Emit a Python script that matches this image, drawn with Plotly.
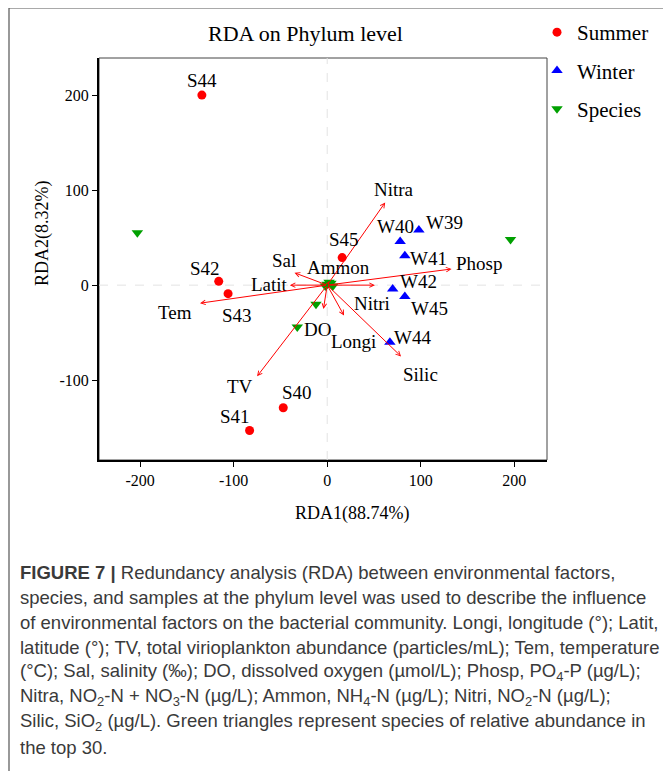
import plotly.graph_objects as go

# ── data ────────────────────────────────────────────────────────────────────
summer_names = ["S44", "S45", "S42", "S43", "S40", "S41"]
summer_x = [-134, 16, -116, -106, -47, -83]
summer_y = [200, 29, 4, -9, -129, -153]

winter_names = ["W39", "W40", "W41", "W42", "W45", "W44"]
winter_x = [98, 78, 83, 70, 83, 67]
winter_y = [58, 46, 31, -4, -12, -60]

species_x = [-203, 196, -12, -32, 0, 4, -2, 6, 2]
species_y = [55, 48, -20, -44, 1, 2, -1, -1, 3]

env_names = ["Nitra", "Phosp", "Sal", "Latit", "Tem", "Ammon", "Nitri", "DO", "Longi", "Silic", "TV"]
env_x = [62, 133, -35, -40, -136, 2, 51, -4, 18, 79, -75]
env_y = [87, 17, 13, 0, -19, 4, 0, -25, -32, -75, -96]

x_ticks = [-200, -100, 0, 100, 200]
x_ticktext = ["-200", "-100", "0", "100", "200"]
y_ticks = [-100, 0, 100, 200]
y_ticktext = ["-100", "0", "100", "200"]

caption_lines = [
    "<b>FIGURE 7 |</b> Redundancy analysis (RDA) between environmental factors,",
    "species, and samples at the phylum level was used to describe the influence",
    "of environmental factors on the bacterial community. Longi, longitude (°); Latit,",
    "latitude (°); TV, total virioplankton abundance (particles/mL); Tem, temperature",
    "(°C); Sal, salinity (‰); DO, dissolved oxygen (µmol/L); Phosp, PO<sub>4</sub>-P (µg/L);",
    "Nitra, NO<sub>2</sub>-N + NO<sub>3</sub>-N (µg/L); Ammon, NH<sub>4</sub>-N (µg/L); Nitri, NO<sub>2</sub>-N (µg/L);",
    "Silic, SiO<sub>2</sub> (µg/L). Green triangles represent species of relative abundance in",
    "the top 30.",
]

# label offsets in pixels (dx, dy up)
POINT_LABEL_SHIFT = {
    "S44": (0, 15), "S45": (2, 18), "S42": (-14, 13), "S43": (9, -22),
    "S40": (14, 15), "S41": (-15, 14),
    "W39": (26, 8), "W40": (-5, 15), "W41": (24, -3), "W42": (26, 7),
    "W45": (25, -12), "W44": (23, 5),
}
ENV_LABEL_SHIFT = {
    "Nitra": (9, 13), "Phosp": (27, 5), "Sal": (-10, 12), "Latit": (-20, 1),
    "Tem": (-25, -9), "Ammon": (9, 14), "Nitri": (-3, -18), "DO": (-6, -21),
    "Longi": (9, -26), "Silic": (19, -18), "TV": (-17, -10),
}

OFF = 8                          # page body margin
W, H = 671 - OFF, 771 - OFF
L, R, T, B = 99, 547, 58, 460    # plot area, page pixels
SERIF = "Liberation Serif"


def px2paper(px, py):
    return (px - L) / (R - L), (B - py) / (B - T)


fig = go.Figure()

fig.add_trace(go.Scatter(
    x=summer_x, y=summer_y, mode="markers", name="Summer", legendgroup="s",
    marker=dict(symbol="circle", size=9, color="#ff0000"),
))
fig.add_trace(go.Scatter(
    x=winter_x, y=winter_y, mode="markers", name="Winter", legendgroup="w",
    marker=dict(symbol="triangle-up", size=10, color="#0000ff"),
))
fig.add_trace(go.Scatter(
    x=species_x, y=species_y, mode="markers", name="Species", legendgroup="p",
    marker=dict(symbol="triangle-down", size=10, color="#00a000"),
))

annotations = []

# environmental arrows
for name, ex, ey in zip(env_names, env_x, env_y):
    annotations.append(dict(
        x=ex, y=ey, ax=0, ay=0, xref="x", yref="y", axref="x", ayref="y",
        showarrow=True, arrowhead=5, arrowsize=0.9, arrowwidth=1,
        arrowcolor="#ff0000", text="",
    ))
    dx, dy = ENV_LABEL_SHIFT[name]
    annotations.append(dict(
        x=ex, y=ey, xref="x", yref="y", text=name, showarrow=False,
        xshift=dx, yshift=dy, font=dict(family=SERIF, size=19, color="black"),
    ))

# sample labels
for names, xs, ys in [(summer_names, summer_x, summer_y), (winter_names, winter_x, winter_y)]:
    for name, sx, sy in zip(names, xs, ys):
        dx, dy = POINT_LABEL_SHIFT[name]
        annotations.append(dict(
            x=sx, y=sy, xref="x", yref="y", text=name, showarrow=False,
            xshift=dx, yshift=dy, font=dict(family=SERIF, size=19, color="black"),
        ))


def paper_text(px, py, text, size, family=SERIF, **kw):
    x, y = px2paper(px, py)
    d = dict(x=x, y=y, xref="paper", yref="paper", text=text, showarrow=False,
             xanchor="center", yanchor="middle",
             font=dict(family=family, size=size, color=kw.pop("color", "black")))
    d.update(kw)
    annotations.append(d)


paper_text(305, 33, "RDA on Phylum level", 22)
paper_text(352, 513, "RDA1(88.74%)", 18)
paper_text(43, 233, "RDA2(8.32%)", 18, textangle=-90)

# caption
for i, line in enumerate(caption_lines):
    paper_text(18, 572 + 25 * i, line, 18.5, family="Liberation Sans",
               color="#3a3a3a", xanchor="left", align="left")

fx0, fy0 = px2paper(9, 800)
fx1, fy1 = px2paper(664, 8)
shapes = [
    # outer figure frame
    dict(type="rect", xref="paper", yref="paper", x0=fx0, y0=fy0, x1=fx1, y1=fy1,
         line=dict(color="#555555", width=1.2), layer="below"),
    # thin top/right box of plot panel
    dict(type="rect", xref="paper", yref="paper", x0=0, y0=0, x1=1, y1=1,
         line=dict(color="#444444", width=1), layer="below"),
    # dashed zero lines
    dict(type="line", xref="x", yref="paper", x0=0, x1=0, y0=0, y1=1,
         line=dict(color="#e3e3e3", width=1, dash="dash"), layer="below"),
    dict(type="line", xref="paper", yref="y", x0=0, x1=1, y0=0, y1=0,
         line=dict(color="#e3e3e3", width=1, dash="dash"), layer="below"),
]

lx, ly = px2paper(537, 12)

fig.update_layout(
    width=W, height=H,
    margin=dict(l=L - OFF, r=W - (R - OFF), t=T - OFF, b=H - (B - OFF), pad=0,
                autoexpand=False),
    paper_bgcolor="white", plot_bgcolor="white",
    showlegend=True,
    legend=dict(x=lx, y=ly, xanchor="left", yanchor="top",
                font=dict(family=SERIF, size=21, color="black"),
                tracegroupgap=8, itemwidth=30, bgcolor="rgba(0,0,0,0)"),
    annotations=annotations,
    shapes=shapes,
)
fig.update_xaxes(
    range=[-244, 235], tickvals=x_ticks, ticktext=x_ticktext, showgrid=False, zeroline=False,
    showline=True, linecolor="black", linewidth=2, ticks="outside", ticklen=5,
    tickcolor="black", tickfont=dict(family=SERIF, size=16, color="black"),
)
fig.update_yaxes(
    range=[-184, 239], tickvals=y_ticks, ticktext=y_ticktext, showgrid=False, zeroline=False,
    showline=True, linecolor="black", linewidth=2, ticks="outside", ticklen=5,
    tickcolor="black", tickfont=dict(family=SERIF, size=16, color="black"),
)

fig.write_html("out.html")
